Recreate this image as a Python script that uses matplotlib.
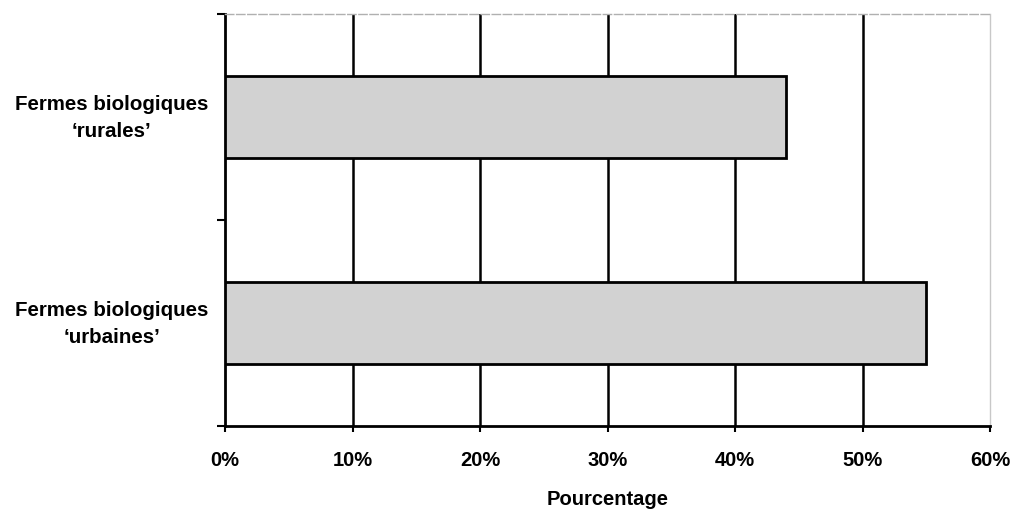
import numpy as np
import matplotlib
matplotlib.use("Agg")
import matplotlib.pyplot as plt
import matplotlib.ticker as ticker

plt.rcParams['font.family'] = ['Liberation Sans', 'DejaVu Sans']

# share of farms, in percent
categories = ["Fermes biologiques\n\u2018rurales\u2019",
              "Fermes biologiques\n\u2018urbaines\u2019"]
values = [44, 55]
x_ticks = [0, 10, 20, 30, 40, 50, 60]
x_label = "Pourcentage"

fig = plt.figure(figsize=(10.15, 5.1), dpi=100)
ax = fig.add_axes([0.2217, 0.1627, 0.9754 - 0.2217, 0.9706 - 0.1627])

ypos = np.arange(len(categories))
ax.barh(ypos, values, height=0.4, color='#d2d2d2', edgecolor='black',
        linewidth=2, zorder=3)

ax.set_xlim(0, 60)
ax.set_ylim(-0.5, len(categories) - 0.5)
ax.invert_yaxis()

# vertical grid at every 10 %
for xv in x_ticks[1:-1]:
    ax.axvline(xv, color='black', linewidth=1.8, zorder=1)

ax.set_xticks(x_ticks)
ax.xaxis.set_major_formatter(ticker.FuncFormatter(lambda v, p: f"{int(v)}%"))
ax.tick_params(axis='x', length=4, width=1.5, pad=13, labelsize=14.5)
for t in ax.get_xticklabels():
    t.set_fontweight('bold')

ax.set_yticks(ypos)
ax.set_yticklabels(categories, fontsize=14.8, fontweight='bold')
for t in ax.get_yticklabels():
    t.set_multialignment('center')
    t.set_linespacing(1.55)
    t.set_va('center')
ax.yaxis.set_minor_locator(ticker.FixedLocator([-0.5, 0.5, 1.5]))
ax.tick_params(axis='y', which='major', length=0, pad=12)
ax.tick_params(axis='y', which='minor', length=6, width=1.5)

ax.set_xlabel(x_label, fontsize=14.5, fontweight='bold', labelpad=15)

ax.spines['left'].set_linewidth(2)
ax.spines['bottom'].set_linewidth(2)
ax.spines['top'].set_color('#b0b0b0')
ax.spines['top'].set_linestyle((0, (6, 2)))
ax.spines['top'].set_linewidth(1)
ax.spines['right'].set_color('#c8c8c8')
ax.spines['right'].set_linewidth(1)

fig.savefig("out.png", dpi=100)
